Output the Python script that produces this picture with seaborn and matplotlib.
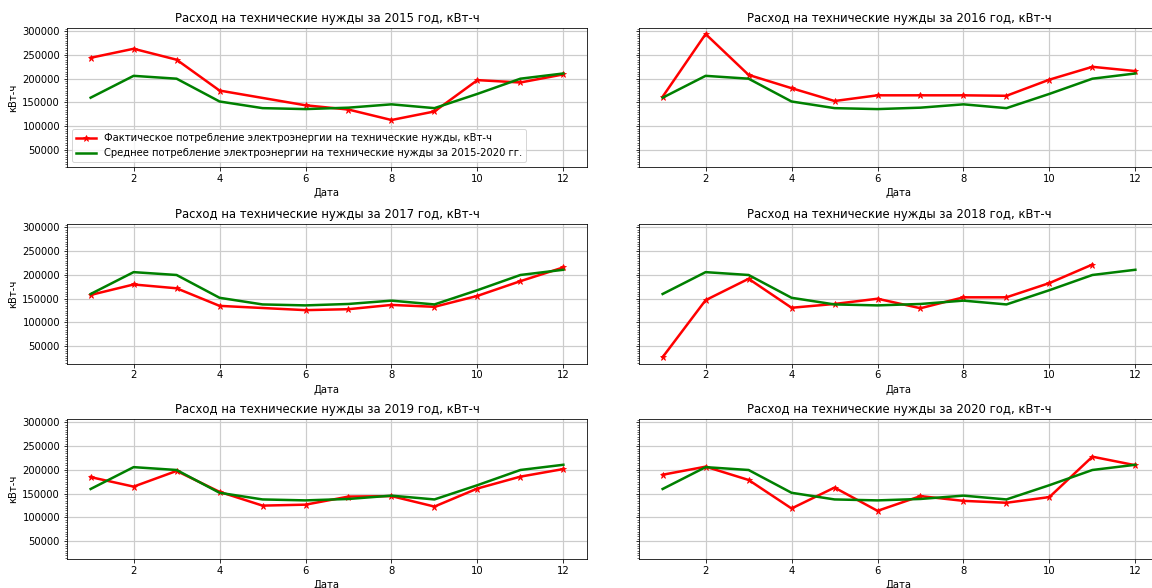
import numpy as np
import pandas as pd
import matplotlib
matplotlib.use("Agg")
import matplotlib.pyplot as plt
from matplotlib.ticker import MultipleLocator
import seaborn as sns

months = list(range(1, 13))
years = [2015, 2016, 2017, 2018, 2019, 2020]

average = [160000, 206000, 200000, 152000, 138000, 136000, 139000, 146000, 138000, 168000, 200000, 211000]

fact_2015 = [244000, 263000, 240000, 175000, np.nan, 144000, 135000, 113000, 131000, 197000, 192000, 209000]
fact_2016 = [162000, 294000, 208000, 180000, 153000, 165000, 165000, 165000, 164000, 198000, 225000, 216000]
fact_2017 = [158000, 180000, 172000, 135000, np.nan, 126000, 128000, 137000, 133000, 156000, 187000, 216000]
fact_2018 = [27000, 147000, 192000, 131000, 139000, 150000, 130000, 153000, 153000, 183000, 222000, np.nan]
fact_2019 = [185000, 165000, 198000, 154000, 125000, 127000, 144000, 145000, 123000, 161000, 186000, 202000]
fact_2020 = [190000, 207000, 179000, 119000, 163000, 114000, 145000, 135000, 131000, 143000, 228000, 210000]

facts = [fact_2015, fact_2016, fact_2017, fact_2018, fact_2019, fact_2020]

title_tpl = "Расход на технические нужды за {} год, кВт-ч"
label_fact = "Фактическое потребление электроэнергии на технические нужды, кВт-ч"
label_avg = "Среднее потребление электроэнергии на технические нужды за 2015-2020 гг."
xlabel = "Дата"
ylabel = "кВт-ч"

plt.rcParams['font.family'] = ['DejaVu Sans']

fig = plt.figure(figsize=(16, 588 / 72), dpi=72)

W, H = 1152.0, 588.0
lefts = [67 / W, 639 / W]
width = 520 / W
tops = [27.7, 224.0, 419.0]
height_px = 139.5

axes = []
first = None
for r in range(3):
    for c in range(2):
        rect = [lefts[c], 1 - (tops[r] + height_px) / H, width, height_px / H]
        if first is None:
            ax = fig.add_axes(rect)
            first = ax
        else:
            ax = fig.add_axes(rect, sharey=first)
        axes.append(ax)

for i, (ax, year, fact) in enumerate(zip(axes, years, facts)):
    df = pd.DataFrame({"month": months, "fact": fact, "avg": average})
    sns.lineplot(data=df, x="month", y="fact", ax=ax, color="red", linewidth=2.5,
                 marker="*", markersize=7, markeredgecolor="red", label=label_fact)
    sns.lineplot(data=df, x="month", y="avg", ax=ax, color="green", linewidth=2.5,
                 label=label_avg)
    ax.set_title(title_tpl.format(year), fontsize=11.6)
    ax.set_xlabel(xlabel, fontsize=10)
    ax.grid(True, color="#cccccc", linewidth=1.2)
    ax.yaxis.set_minor_locator(MultipleLocator(5000))
    ax.tick_params(labelsize=10)
    if i % 2 == 0:
        ax.set_ylabel(ylabel, fontsize=10)
    else:
        ax.set_ylabel("")
        ax.tick_params(axis="y", labelleft=False)
    if i == 0:
        ax.legend(loc="lower left", fontsize=10)
    else:
        leg = ax.get_legend()
        if leg is not None:
            leg.remove()

fig.savefig("out.png", dpi=72)
